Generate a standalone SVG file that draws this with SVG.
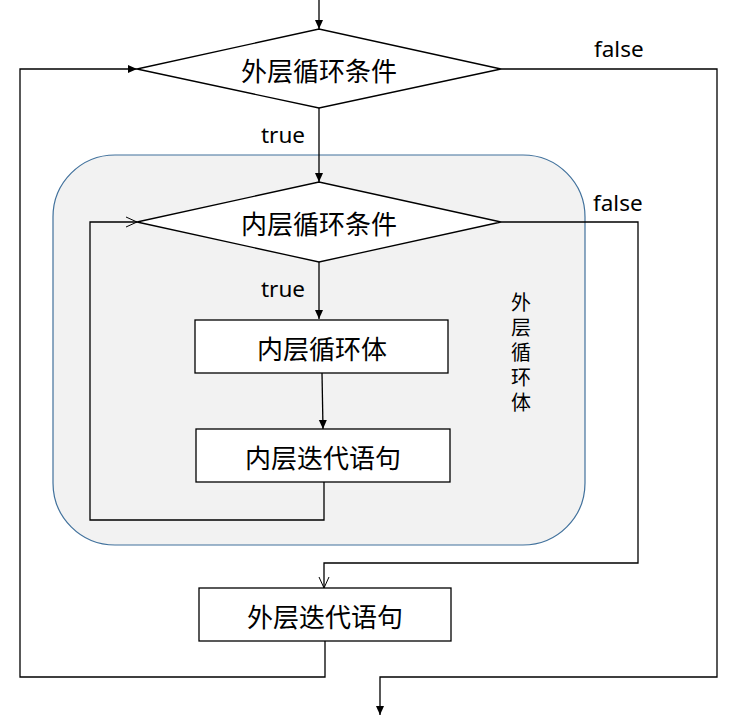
<svg xmlns="http://www.w3.org/2000/svg" width="739" height="719" viewBox="0 0 739 719">
<style>
.ln{fill:none;stroke:#000;stroke-width:1.3}
.shape{fill:#fff;stroke:#000;stroke-width:1.3}
.t{font-family:"Noto Sans CJK SC","Noto Sans",sans-serif;font-size:26px;fill:#000;text-anchor:middle;dominant-baseline:central}
.lb{font-family:"Noto Sans","Liberation Sans",sans-serif;font-size:22.5px;fill:#000}
.v{font-family:"Noto Sans CJK SC",sans-serif;font-size:20px;fill:#000;writing-mode:vertical-rl;letter-spacing:5px}
</style>
<defs>
<marker id="fa" markerWidth="10" markerHeight="10" refX="9" refY="5" orient="auto" markerUnits="userSpaceOnUse">
<path d="M0,1 L9,5 L0,9 Z" fill="#000"/>
</marker>
<marker id="oa" markerWidth="12" markerHeight="12" refX="11" refY="6" orient="auto" markerUnits="userSpaceOnUse">
<path d="M0,1 L11,6 L0,11" fill="none" stroke="#000" stroke-width="1"/>
</marker>
</defs>
<rect id="outer-body" x="53" y="155" width="532" height="390" rx="62" ry="62" fill="#f2f2f2" stroke="#41719c" stroke-width="1.2"/>
<g id="connectors">
<line class="ln" x1="319" y1="0" x2="319" y2="29" marker-end="url(#fa)"/>
<line class="ln" x1="319" y1="108" x2="319" y2="182" marker-end="url(#fa)"/>
<line class="ln" x1="319" y1="262" x2="319" y2="319" marker-end="url(#fa)"/>
<line class="ln" x1="322" y1="373" x2="323" y2="429" marker-end="url(#fa)"/>
<polyline class="ln" points="324,482 324,520 90,520 90,222 137,222" marker-end="url(#oa)"/>
<polyline class="ln" points="501,222 638,222 638,563 324,563 324,588" marker-end="url(#oa)"/>
<polyline class="ln" points="325,641 325,677 20,677 20,69 137,69" marker-end="url(#fa)"/>
<polyline class="ln" points="501,69 717,69 717,677 380,677 380,715" marker-end="url(#fa)"/>
<text class="lb" x="594" y="57">false</text>
<text class="lb" x="261" y="143">true</text>
<text class="lb" x="593" y="211">false</text>
<text class="lb" x="261" y="297">true</text>
</g>
<g id="outer-cond">
<polygon class="shape" points="137,69 319,29 501,69 319,108"/>
<text class="t" x="319" y="69">外层循环条件</text>
</g>
<g id="inner-cond">
<polygon class="shape" points="137,222 319,182 501,222 319,262"/>
<text class="t" x="319" y="222">内层循环条件</text>
</g>
<g id="inner-body">
<rect class="shape" x="195" y="320" width="253" height="53"/>
<text class="t" x="322" y="347">内层循环体</text>
</g>
<g id="inner-iter">
<rect class="shape" x="196" y="429" width="254" height="53"/>
<text class="t" x="323" y="456">内层迭代语句</text>
</g>
<g id="outer-iter">
<rect class="shape" x="199" y="588" width="252" height="53"/>
<text class="t" x="325" y="615">外层迭代语句</text>
</g>
<g id="outer-body-label">
<text class="v" x="521" y="292">外层循环体</text>
</g>
</svg>
